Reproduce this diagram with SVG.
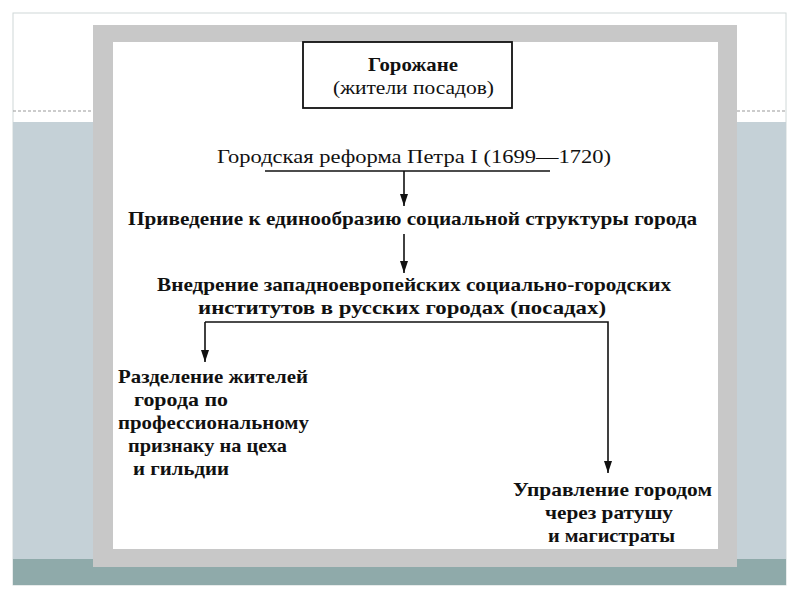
<svg xmlns="http://www.w3.org/2000/svg" width="800" height="600" viewBox="0 0 800 600">
<defs>
<style>
text{font-family:"Liberation Serif","DejaVu Serif",serif;font-size:19px;fill:#111;font-weight:bold}
.n{font-weight:normal}
.ln{stroke:#111;stroke-width:1.6;fill:none}
</style>
<marker id="ah" markerWidth="12" markerHeight="8" refX="12" refY="4" orient="auto" markerUnits="userSpaceOnUse" viewBox="0 0 12 8"><path d="M0,0 L12,4 L0,8z" fill="#111"/></marker>
</defs>
<rect width="800" height="600" fill="#fff"/>
<rect x="13" y="13" width="773" height="572" fill="#fff" stroke="#d0d8d8"/>
<line x1="13" y1="111" x2="93" y2="111" stroke="#999" stroke-dasharray="3,2"/>
<line x1="737" y1="111" x2="786" y2="111" stroke="#999" stroke-dasharray="3,2"/>
<rect x="13" y="122" width="773" height="437" fill="#c5d1d7"/>
<rect x="13" y="559" width="773" height="26" fill="#8faaaa"/>
<rect x="93" y="25" width="644" height="542" fill="#c8c8c8"/>
<rect x="113" y="42" width="605" height="507" fill="#fff"/>
<g id="n1"><rect x="303" y="42" width="209" height="66" fill="#fff" stroke="#111" stroke-width="1.8"/>
<text x="368" y="71" textLength="90" lengthAdjust="spacingAndGlyphs">Горожане</text>
<text x="333" y="94" class="n" textLength="161" lengthAdjust="spacingAndGlyphs">(жители посадов)</text></g>
<g id="n2"><text x="217" y="163" class="n" textLength="394" lengthAdjust="spacingAndGlyphs">Городская реформа Петра I (1699—1720)</text>
<line class="ln" x1="265" y1="171" x2="550" y2="171"/></g>
<g id="n3"><text x="128" y="225" textLength="569" lengthAdjust="spacingAndGlyphs">Приведение к единообразию социальной структуры города</text></g>
<g id="n4"><text x="157" y="291" textLength="514" lengthAdjust="spacingAndGlyphs">Внедрение западноевропейских социально-городских</text>
<text x="198" y="314" textLength="408" lengthAdjust="spacingAndGlyphs">институтов в русских городах (посадах)</text></g>
<g id="n5"><text x="118" y="383" textLength="190" lengthAdjust="spacingAndGlyphs">Разделение жителей</text>
<text x="134" y="406" textLength="94" lengthAdjust="spacingAndGlyphs">города по</text>
<text x="118" y="429" textLength="191" lengthAdjust="spacingAndGlyphs">профессиональному</text>
<text x="128" y="452" textLength="159" lengthAdjust="spacingAndGlyphs">признаку на цеха</text>
<text x="133" y="475" textLength="96" lengthAdjust="spacingAndGlyphs">и гильдии</text></g>
<g id="n6"><text x="513" y="496" textLength="199" lengthAdjust="spacingAndGlyphs">Управление городом</text>
<text x="545" y="519" textLength="128" lengthAdjust="spacingAndGlyphs">через ратушу</text>
<text x="548" y="542" textLength="127" lengthAdjust="spacingAndGlyphs">и магистраты</text></g>
<g id="connectors">
<line class="ln" x1="404" y1="171" x2="404" y2="206" marker-end="url(#ah)"/>
<line class="ln" x1="404" y1="234" x2="404" y2="273" marker-end="url(#ah)"/>
<polyline class="ln" points="205,322 608,322 608,473" marker-end="url(#ah)"/>
<line class="ln" x1="205" y1="322" x2="205" y2="362" marker-end="url(#ah)"/>
</g>
</svg>
